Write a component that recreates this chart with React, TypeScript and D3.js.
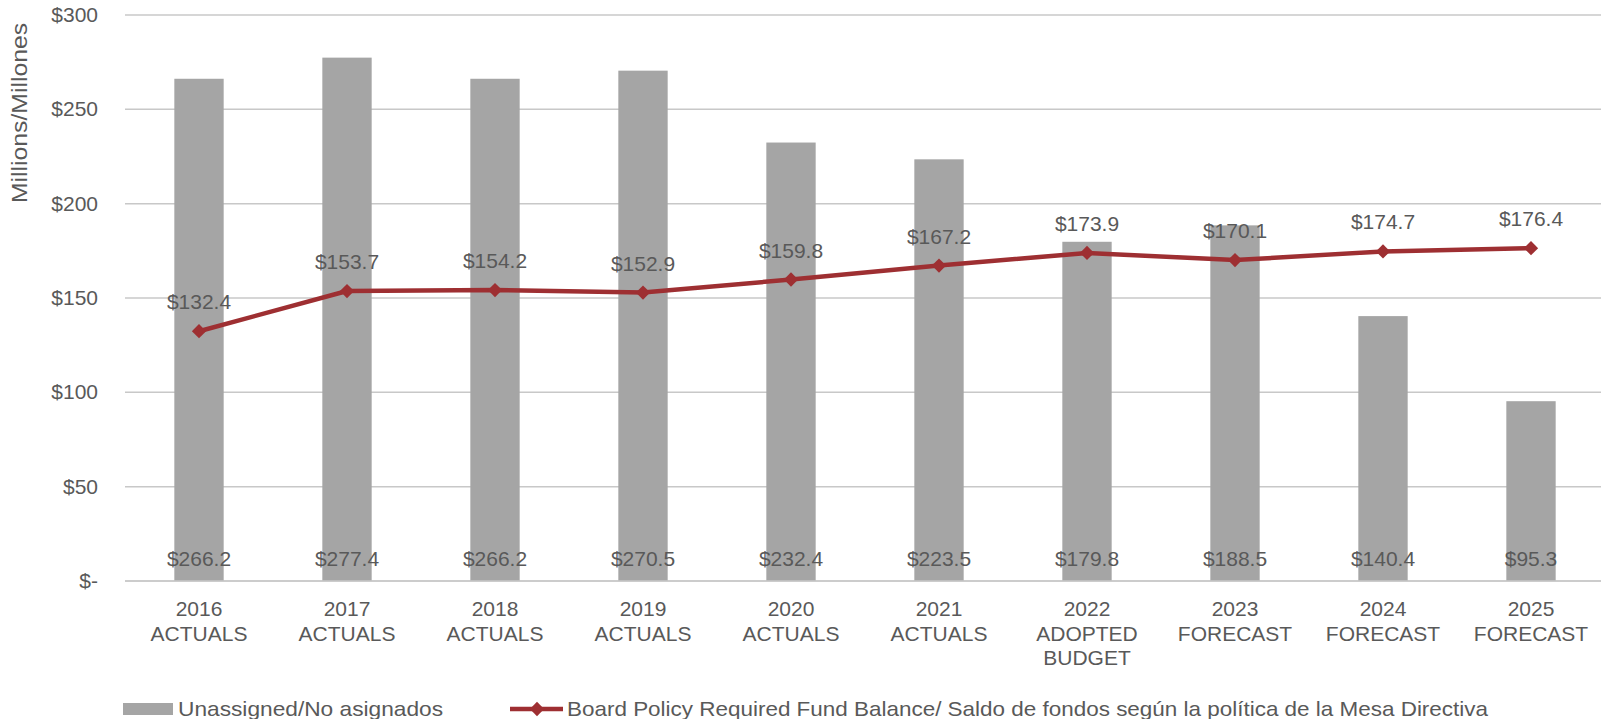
import { useEffect, useRef } from 'react';
import * as d3 from 'd3';

const categories = ['2016', '2017', '2018', '2019', '2020', '2021', '2022', '2023', '2024', '2025'];
const categoryLines = [
  ['2016', 'ACTUALS'],
  ['2017', 'ACTUALS'],
  ['2018', 'ACTUALS'],
  ['2019', 'ACTUALS'],
  ['2020', 'ACTUALS'],
  ['2021', 'ACTUALS'],
  ['2022', 'ADOPTED', 'BUDGET'],
  ['2023', 'FORECAST'],
  ['2024', 'FORECAST'],
  ['2025', 'FORECAST'],
];
const unassigned = [266.2, 277.4, 266.2, 270.5, 232.4, 223.5, 179.8, 188.5, 140.4, 95.3];
const required = [132.4, 153.7, 154.2, 152.9, 159.8, 167.2, 173.9, 170.1, 174.7, 176.4];
const yTicks = [0, 50, 100, 150, 200, 250, 300];

const BAR = '#a5a5a5';
const LINE = '#9e2f32';
const TEXT = '#595959';
const GRID = '#c8c8c8';
const FONT = '"Liberation Sans", Arial, sans-serif';

export default function App() {
  const ref = useRef<SVGSVGElement>(null);

  useEffect(() => {
    if (!ref.current) return;
    const svg = d3.select(ref.current);
    svg.selectAll('*').remove();

    const m = { left: 125, right: 1605, top: 15, bottom: 581 };
    const x = d3.scaleBand<string>().domain(categories).range([m.left, m.right]).padding(0);
    const y = d3.scaleLinear().domain([0, 300]).range([m.bottom, m.top]);
    const barW = x.bandwidth() / 3;
    const cx = (i: number) => (x(categories[i]) ?? 0) + x.bandwidth() / 2;

    // gridlines
    svg.append('g').selectAll('line').data(yTicks).enter().append('line')
      .attr('x1', m.left).attr('x2', m.right)
      .attr('y1', d => y(d)).attr('y2', d => y(d))
      .attr('stroke', GRID).attr('stroke-width', 1.5);

    // y tick labels
    svg.append('g').selectAll('text').data(yTicks).enter().append('text')
      .attr('x', 98).attr('y', d => y(d) + 7)
      .attr('text-anchor', 'end').attr('font-size', '21px').attr('fill', TEXT)
      .attr('font-family', FONT)
      .text(d => d === 0 ? '$-' : `$${d}`);

    // y title
    svg.append('text')
      .attr('transform', 'translate(27,113) rotate(-90)')
      .attr('x', -90)
      .attr('font-size', '22px').attr('fill', TEXT)
      .attr('font-family', FONT)
      .attr('textLength', 180).attr('lengthAdjust', 'spacingAndGlyphs')
      .text('Millions/Millones');

    // bars
    svg.append('g').selectAll('rect').data(unassigned).enter().append('rect')
      .attr('x', (_, i) => cx(i) - barW / 2).attr('width', barW)
      .attr('y', d => y(d)).attr('height', d => y(0) - y(d))
      .attr('fill', BAR);

    // redraw baseline over bars
    svg.append('line').attr('x1', m.left).attr('x2', m.right)
      .attr('y1', y(0)).attr('y2', y(0)).attr('stroke', GRID).attr('stroke-width', 1.5);

    // line
    const line = d3.line<number>().x((_, i) => cx(i)).y(d => y(d));
    svg.append('path').datum(required).attr('d', line)
      .attr('fill', 'none').attr('stroke', LINE).attr('stroke-width', 4.5)
      .attr('stroke-linejoin', 'round');

    const diamond = d3.symbol().type(d3.symbolDiamond2).size(130);
    svg.append('g').selectAll('path').data(required).enter().append('path')
      .attr('d', diamond)
      .attr('transform', (d, i) => `translate(${cx(i)},${y(d)})`)
      .attr('fill', LINE);

    // bar labels
    svg.append('g').selectAll('text').data(unassigned).enter().append('text')
      .attr('x', (_, i) => cx(i)).attr('y', y(0) - 15)
      .attr('text-anchor', 'middle').attr('font-size', '21px').attr('fill', TEXT)
      .attr('font-family', FONT)
      .text(d => `$${d.toFixed(1)}`);

    // line labels
    svg.append('g').selectAll('text').data(required).enter().append('text')
      .attr('x', (_, i) => cx(i)).attr('y', d => y(d) - 22)
      .attr('text-anchor', 'middle').attr('font-size', '21px').attr('fill', TEXT)
      .attr('font-family', FONT)
      .text(d => `$${d.toFixed(1)}`);

    // category labels
    const cat = svg.append('g').selectAll('text').data(categoryLines).enter().append('text')
      .attr('text-anchor', 'middle').attr('font-size', '21px').attr('fill', TEXT)
      .attr('font-family', FONT);
    cat.each(function (lines, i) {
      const t = d3.select(this);
      lines.forEach((s, j) => {
        t.append('tspan').attr('x', cx(i)).attr('y', y(0) + 35 + j * 24.5).text(s);
      });
    });

    // legend
    const lg = svg.append('g').attr('font-family', FONT).attr('font-size', '21px').attr('fill', TEXT);
    lg.append('rect').attr('x', 123).attr('y', 703).attr('width', 50).attr('height', 12).attr('fill', BAR);
    lg.append('text').attr('x', 178).attr('y', 715.5)
      .attr('textLength', 265).attr('lengthAdjust', 'spacingAndGlyphs')
      .text('Unassigned/No asignados');
    lg.append('line').attr('x1', 510).attr('x2', 563).attr('y1', 709).attr('y2', 709)
      .attr('stroke', LINE).attr('stroke-width', 4.5);
    lg.append('path').attr('d', diamond).attr('transform', 'translate(537,709)').attr('fill', LINE);
    lg.append('text').attr('x', 567).attr('y', 715.5)
      .attr('textLength', 921).attr('lengthAdjust', 'spacingAndGlyphs')
      .text('Board Policy Required Fund Balance/ Saldo de fondos según la política de la Mesa Directiva');
  }, []);

  return (
    <svg ref={ref} width={1601} height={719}
      style={{ position: 'absolute', left: 0, top: 0, background: '#fff', overflow: 'hidden' }} />
  );
}
